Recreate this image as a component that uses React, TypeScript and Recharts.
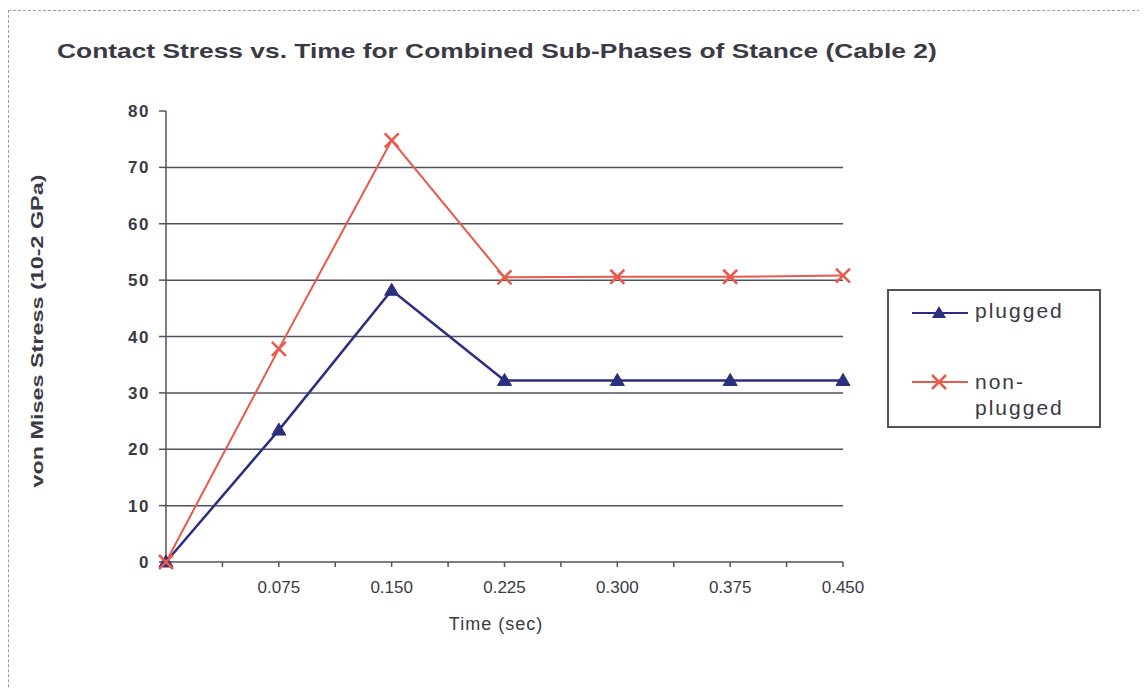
import React from "react";
import { LineChart, Line, XAxis, YAxis, ReferenceLine, Legend } from "recharts";

const times = [0, 0.075, 0.15, 0.225, 0.3, 0.375, 0.45];
const plugged = [0, 23.4, 48.2, 32.2, 32.2, 32.2, 32.2];
const nonPlugged = [0, 37.8, 74.8, 50.5, 50.6, 50.6, 50.8];
const xTicks = [0, 0.0375, 0.075, 0.1125, 0.15, 0.1875, 0.225, 0.2625, 0.3, 0.3375, 0.375, 0.4125, 0.45];
const xTickLabels = ["", "", "0.075", "", "0.150", "", "0.225", "", "0.300", "", "0.375", "", "0.450"];
const yTicks = [0, 10, 20, 30, 40, 50, 60, 70, 80];
const gridValues = [10, 20, 30, 40, 50, 60, 70];
const seriesNames = ["plugged", "non-plugged"];

const BLUE = "#2c2f7e";
const RED = "#e9594b";
const GRID = "#50525e";
const TEXT = "#3a3a44";
const FONT = "'Liberation Sans', Arial, sans-serif";

const data = times.map((t, i) => ({ t, plugged: plugged[i], nonPlugged: nonPlugged[i] }));

const Tri = (props: any) => {
  const { cx, cy } = props;
  if (cx == null || cy == null) return null;
  return <polygon points={`${cx},${cy - 7} ${cx - 7},${cy + 5} ${cx + 7},${cy + 5}`} fill={BLUE} stroke={BLUE} strokeWidth={1} />;
};

const Cross = (props: any) => {
  const { cx, cy } = props;
  if (cx == null || cy == null) return null;
  return (
    <g stroke={RED} strokeWidth={2.5}>
      <line x1={cx - 7} y1={cy - 7} x2={cx + 7} y2={cy + 7} />
      <line x1={cx - 7} y1={cy + 7} x2={cx + 7} y2={cy - 7} />
    </g>
  );
};

const LegendBox = () => (
  <div
    style={{
      width: 214,
      height: 139,
      border: `2px solid ${GRID}`,
      boxSizing: "border-box",
      position: "relative",
      fontFamily: FONT,
      fontSize: 21,
      color: TEXT,
      letterSpacing: 2,
      background: "#fff",
    }}
  >
    <svg style={{ position: "absolute", left: 23, top: 14 }} width={60} height={16}>
      <line x1={0} y1={8} x2={56} y2={8} stroke={BLUE} strokeWidth={2} />
      <polygon points="27,1 20,13 34,13" fill={BLUE} />
    </svg>
    <div style={{ position: "absolute", left: 86, top: 9, lineHeight: "22px" }}>{seriesNames[0]}</div>
    <svg style={{ position: "absolute", left: 23, top: 83 }} width={60} height={16}>
      <line x1={0} y1={8} x2={56} y2={8} stroke={RED} strokeWidth={2} />
      <line x1={20} y1={1} x2={34} y2={15} stroke={RED} strokeWidth={2.5} />
      <line x1={20} y1={15} x2={34} y2={1} stroke={RED} strokeWidth={2.5} />
    </svg>
    <div style={{ position: "absolute", left: 86, top: 78, lineHeight: "26px", width: 120 }}>
      non-
      <br />
      plugged
    </div>
  </div>
);

export default function App() {
  return (
    <div style={{ position: "relative", width: 1139, height: 681, overflow: "hidden", background: "#fff" }}>
      <div
        style={{
          position: "absolute",
          left: 0,
          top: 2,
          width: 1300,
          height: 900,
          border: "1px dashed #9a9aa4",
        }}
      />
      <div
        style={{
          position: "absolute",
          left: 49,
          top: 31,
          fontFamily: FONT,
          fontWeight: "bold",
          fontSize: 21,
          color: TEXT,
          whiteSpace: "nowrap",
          transform: "scaleX(1.255)",
          transformOrigin: "left center",
        }}
      >
        Contact Stress vs. Time for Combined Sub-Phases of Stance (Cable 2)
      </div>
      <div
        style={{
          position: "absolute",
          left: 30,
          top: 323,
          width: 0,
          height: 0,
        }}
      >
        <div
          style={{
            position: "absolute",
            transform: "translate(-50%, -50%) rotate(-90deg) scaleX(1.46)",
            fontFamily: FONT,
            fontWeight: "bold",
            fontSize: 16,
            color: TEXT,
            whiteSpace: "nowrap",
          }}
        >
          von Mises Stress (10-2 GPa)
        </div>
      </div>
      <div
        style={{
          position: "absolute",
          left: 488,
          top: 606,
          transform: "translateX(-50%)",
          fontFamily: FONT,
          fontSize: 18,
          letterSpacing: 1,
          color: TEXT,
          whiteSpace: "nowrap",
        }}
      >
        Time (sec)
      </div>
      <div style={{ position: "absolute", left: 0, top: 0 }}>
        <LineChart width={1139} height={681} data={data} margin={{ top: 103, right: 304, bottom: 97, left: 98 }}>
          <XAxis
            dataKey="t"
            type="number"
            domain={[0, 0.45]}
            ticks={xTicks}
            interval={0}
            tickFormatter={(v: number) => {
              const i = xTicks.indexOf(v);
              return i >= 0 ? xTickLabels[i] : "";
            }}
            height={30}
            tickSize={5}
            tickMargin={14}
            axisLine={{ stroke: GRID, strokeWidth: 1.5 }}
            tickLine={{ stroke: GRID, strokeWidth: 1.5 }}
            tick={{ fill: TEXT, fontFamily: FONT, fontSize: 17 }}
          />
          <YAxis
            type="number"
            domain={[0, 80]}
            ticks={yTicks}
            interval={0}
            width={60}
            tickSize={7}
            tickMargin={9}
            axisLine={{ stroke: GRID, strokeWidth: 1.5 }}
            tickLine={{ stroke: GRID, strokeWidth: 1.5 }}
            tick={{ fill: TEXT, fontFamily: FONT, fontSize: 17, fontWeight: "bold", letterSpacing: 1.5 }}
          />
          {gridValues.map((v) => (
            <ReferenceLine key={v} y={v} stroke={GRID} strokeWidth={1.5} ifOverflow="visible" />
          ))}
          <Line
            dataKey="plugged"
            name={seriesNames[0]}
            stroke={BLUE}
            strokeWidth={2.5}
            dot={<Tri />}
            activeDot={false}
            isAnimationActive={false}
          />
          <Line
            dataKey="nonPlugged"
            name={seriesNames[1]}
            stroke={RED}
            strokeWidth={2}
            dot={<Cross />}
            activeDot={false}
            isAnimationActive={false}
          />
          <Legend
            content={() => <LegendBox />}
            layout="horizontal"
            verticalAlign="middle"
            align="center"
            wrapperStyle={{ position: "absolute", left: 879, top: 281, width: 214, height: 139 }}
          />
        </LineChart>
      </div>
    </div>
  );
}
